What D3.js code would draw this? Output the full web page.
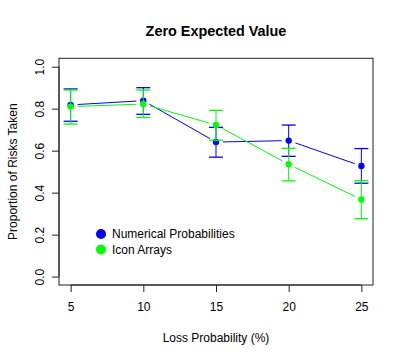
<!DOCTYPE html>
<html>
<head>
<meta charset="utf-8">
<script src="https://cdn.jsdelivr.net/npm/d3@7"></script>
<style>
  html, body { margin: 0; padding: 0; background: #ffffff; }
  svg { display: block; font-family: "Liberation Sans", Arial, Helvetica, sans-serif; }
</style>
</head>
<body>
<svg id="chart" width="404" height="359"></svg>
<script>
// ---- data ----
const lossProb = [5, 10, 15, 20, 25];
const seriesNames = ["Numerical Probabilities", "Icon Arrays"];
const seriesColors = ["#0000ff", "#00ff00"];
const numericalMean = [0.818, 0.838, 0.641, 0.648, 0.527];
const numericalLow  = [0.740, 0.773, 0.569, 0.573, 0.445];
const numericalHigh = [0.894, 0.900, 0.711, 0.722, 0.610];
const iconMean = [0.810, 0.822, 0.722, 0.535, 0.367];
const iconLow  = [0.727, 0.759, 0.650, 0.456, 0.276];
const iconHigh = [0.889, 0.889, 0.792, 0.611, 0.457];
const xTicks = [5, 10, 15, 20, 25];
const yTicks = [0, 0.2, 0.4, 0.6, 0.8, 1.0];
const titleText = "Zero Expected Value";
const xTitle = "Loss Probability (%)";
const yTitle = "Proportion of Risks Taken";

const series = [
  { name: seriesNames[0], color: seriesColors[0], mean: numericalMean, low: numericalLow, high: numericalHigh },
  { name: seriesNames[1], color: seriesColors[1], mean: iconMean, low: iconLow, high: iconHigh }
];

// ---- layout ----
const pL = 59, pR = 373, pT = 58.3, pB = 285;
const svg = d3.select("#chart");

const x = d3.scaleLinear().domain([4.2, 25.8]).range([pL, pR]);
const y = d3.scaleLinear().domain([-0.04, 1.04]).range([pB, pT]);

// plot box
svg.append("rect")
  .attr("x", pL).attr("y", pT)
  .attr("width", pR - pL).attr("height", pB - pT)
  .attr("fill", "none").attr("stroke", "#222").attr("stroke-width", 1);

// x axis
const gx = svg.append("g").attr("transform", `translate(0,${pB})`)
  .call(d3.axisBottom(x).tickValues(xTicks).tickSize(7).tickSizeOuter(0).tickFormat(d3.format("d")));
gx.select(".domain").remove();
gx.append("line").attr("x1", x(xTicks[0])).attr("x2", x(xTicks[xTicks.length - 1]))
  .attr("y1", 0).attr("y2", 0).attr("stroke", "#222");
gx.selectAll(".tick line").attr("stroke", "#222");
gx.selectAll(".tick text").attr("y", 26).attr("dy", 0)
  .attr("font-size", 12).attr("fill", "#000").attr("font-family", null);

// y axis
const gy = svg.append("g").attr("transform", `translate(${pL},0)`)
  .call(d3.axisLeft(y).tickValues(yTicks).tickSize(7).tickSizeOuter(0).tickFormat(d3.format(".1f")));
gy.select(".domain").remove();
gy.append("line").attr("y1", y(yTicks[0])).attr("y2", y(yTicks[yTicks.length - 1]))
  .attr("x1", 0).attr("x2", 0).attr("stroke", "#222");
gy.selectAll(".tick line").attr("stroke", "#222");
gy.selectAll(".tick text")
  .attr("x", 0).attr("dy", 0).attr("y", -15)
  .attr("transform", "rotate(-90)")
  .attr("text-anchor", "middle")
  .attr("font-size", 12).attr("fill", "#000").attr("font-family", null);

// titles
svg.append("text").attr("x", (pL + pR) / 2).attr("y", 36)
  .attr("text-anchor", "middle").attr("font-size", 14.4).attr("font-weight", "bold")
  .text(titleText);
svg.append("text").attr("x", (pL + pR) / 2).attr("y", 342)
  .attr("text-anchor", "middle").attr("font-size", 12).text(xTitle);
svg.append("text").attr("transform", `translate(17,${(pT + pB) / 2}) rotate(-90)`)
  .attr("text-anchor", "middle").attr("font-size", 12).text(yTitle);

// series
const gap = 7, cap = 7;
series.forEach(s => {
  const g = svg.append("g");
  const pts = lossProb.map((v, i) => [x(v), y(s.mean[i])]);
  // lines with gaps (type = "b")
  for (let i = 0; i < pts.length - 1; i++) {
    const [x1, y1] = pts[i], [x2, y2] = pts[i + 1];
    const dx = x2 - x1, dy = y2 - y1, len = Math.hypot(dx, dy);
    const ux = dx / len, uy = dy / len;
    g.append("line")
      .attr("x1", x1 + ux * gap).attr("y1", y1 + uy * gap)
      .attr("x2", x2 - ux * gap).attr("y2", y2 - uy * gap)
      .attr("stroke", s.color).attr("stroke-width", 1);
  }
  // error bars
  lossProb.forEach((v, i) => {
    const cx = x(v);
    g.append("line").attr("x1", cx).attr("x2", cx)
      .attr("y1", y(s.low[i])).attr("y2", y(s.high[i]))
      .attr("stroke", s.color).attr("stroke-width", 1);
    [s.low[i], s.high[i]].forEach(e => {
      g.append("line").attr("x1", cx - cap).attr("x2", cx + cap)
        .attr("y1", y(e)).attr("y2", y(e))
        .attr("stroke", s.color).attr("stroke-width", 1.3);
    });
  });
  // points
  g.selectAll("circle").data(lossProb).enter().append("circle")
    .attr("cx", d => x(d)).attr("cy", (d, i) => y(s.mean[i]))
    .attr("r", 3.2).attr("fill", s.color);
});

// legend
const leg = svg.append("g");
series.forEach((s, i) => {
  const ly = 234 + i * 15.5;
  leg.append("circle").attr("cx", 101).attr("cy", ly).attr("r", 5).attr("fill", s.color);
  leg.append("text").attr("x", 112).attr("y", ly + 4.3)
    .attr("font-size", 12).text(s.name);
});
</script>
</body>
</html>
